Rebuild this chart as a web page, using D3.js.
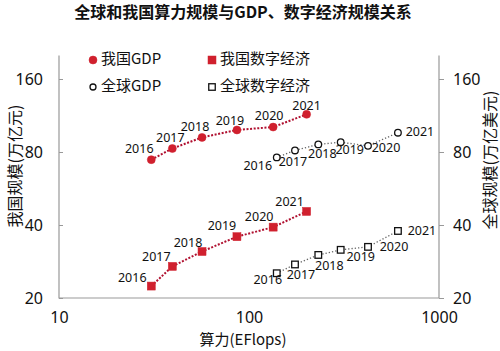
<!DOCTYPE html>
<html>
<head>
<meta charset="utf-8">
<script src="https://cdn.jsdelivr.net/npm/d3@7"></script>
<style>
  html, body { margin: 0; padding: 0; background: #fff; }
  svg { display: block; font-family: 'Noto Sans CJK SC', 'Noto Sans', sans-serif; }
</style>
</head>
<body>
<div id="svg-container"></div>
<script>
const years = ['2016', '2017', '2018', '2019', '2020', '2021']

// 算力 (EFlops)
const chinaCompute = [30.6, 39.5, 56.6, 86.4, 134, 201]
const globalCompute = [140, 174.6, 231.6, 303.8, 423, 608]

// 我国 (万亿元)
const chinaGdp = [74.4, 82.7, 91.9, 98.6, 101.4, 114.4]
const chinaDigital = [22.4, 27.0, 31.1, 35.8, 39.2, 45.5]

// 全球 (万亿美元)
const globalGdp = [76.0, 81.2, 86.0, 87.8, 84.8, 96.1]
const globalDigital = [25.3, 27.5, 30.1, 31.6, 32.5, 37.8]

const xTicks = [10, 100, 1000]
const yTicks = [20, 40, 80, 160]

// year label offsets (dx, dy) relative to each marker
const labelOffsets = {
  chinaGdp: [[-12, -10], [-2, -10], [-7, -10], [-7, -8], [-4, -10], [0, -8]],
  chinaDigital: [[-19, -7], [-16, -9], [-14, -8], [-15, -10], [-14, -9], [-17, -9]],
  globalGdp: [[-19, 9], [-2, 12], [4, 10], [9, 8], [18, 3], [22, 0]],
  globalDigital: [[-9, 7], [6, 11], [11, 12], [20, 8], [26, 1], [24, 1]],
}

const width = 500
const height = 351
const red = '#d0202e'

const svg = d3
  .select('#svg-container')
  .append('svg')
  .attr('width', width)
  .attr('height', height)

const x = d3.scaleLog().domain([10, 1000]).range([59, 439])
const y = d3.scaleLog().domain([20, 200]).range([298, 55.5])

// title
svg
  .append('text')
  .attr('x', 243)
  .attr('y', 18)
  .attr('text-anchor', 'middle')
  .style('font-size', '16px')
  .style('font-weight', 'bold')
  .attr('fill', '#111')
  .text('全球和我国算力规模与GDP、数字经济规模关系')

// frame: left, bottom, right
const axisColor = '#999'
svg
  .append('path')
  .attr('d', `M${x(10)},${y(200)}V${y(20)}H${x(1000)}V${y(200)}`)
  .attr('fill', 'none')
  .attr('stroke', axisColor)
  .attr('stroke-width', 1.2)

// y axes
const leftAxis = svg
  .append('g')
  .attr('transform', `translate(${x(10)},0)`)
  .call(d3.axisRight(y).tickValues(yTicks).tickFormat(d3.format('d')).tickSize(4))
leftAxis.select('.domain').remove()
leftAxis.selectAll('.tick line').attr('stroke', axisColor)
leftAxis
  .selectAll('.tick text')
  .attr('x', -16)
  .attr('text-anchor', 'end')
  .attr('fill', '#111')
  .style('font-size', '16px')
  .style('font-family', "'Noto Sans', sans-serif")

const rightAxis = svg
  .append('g')
  .attr('transform', `translate(${x(1000)},0)`)
  .call(d3.axisRight(y).tickValues(yTicks).tickFormat(d3.format('d')).tickSize(5))
rightAxis.select('.domain').remove()
rightAxis.selectAll('.tick line').attr('stroke', axisColor)
rightAxis
  .selectAll('.tick text')
  .attr('x', 14)
  .attr('fill', '#111')
  .style('font-size', '16px')
  .style('font-family', "'Noto Sans', sans-serif")

// x axis labels
const bottomAxis = svg
  .append('g')
  .attr('transform', `translate(0,${y(20)})`)
  .call(d3.axisBottom(x).tickValues(xTicks).tickFormat(d3.format('d')).tickSize(0))
bottomAxis.select('.domain').remove()
bottomAxis
  .selectAll('.tick text')
  .attr('y', 14)
  .attr('fill', '#111')
  .style('font-size', '16px')
  .style('font-family', "'Noto Sans', sans-serif")

// axis titles
svg
  .append('text')
  .attr('x', 243)
  .attr('y', 345)
  .attr('text-anchor', 'middle')
  .style('font-size', '15px')
  .attr('fill', '#111')
  .text('算力(EFlops)')

svg
  .append('text')
  .attr('transform', 'translate(21,166) rotate(-90)')
  .attr('text-anchor', 'middle')
  .style('font-size', '16px')
  .attr('fill', '#111')
  .text('我国规模(万亿元)')

svg
  .append('text')
  .attr('transform', 'translate(496,160) rotate(-90)')
  .attr('text-anchor', 'middle')
  .style('font-size', '16px')
  .attr('fill', '#111')
  .text('全球规模(万亿美元)')

// series
const series = [
  { key: 'chinaGdp', xs: chinaCompute, ys: chinaGdp, shape: 'circle', filled: true },
  { key: 'chinaDigital', xs: chinaCompute, ys: chinaDigital, shape: 'square', filled: true },
  { key: 'globalGdp', xs: globalCompute, ys: globalGdp, shape: 'circle', filled: false },
  { key: 'globalDigital', xs: globalCompute, ys: globalDigital, shape: 'square', filled: false },
]

const line = d3
  .line()
  .x(d => x(d[0]))
  .y(d => y(d[1]))

series.forEach(s => {
  const pts = years.map((yr, i) => [s.xs[i], s.ys[i], yr, i])
  const g = svg.append('g').attr('class', s.key)

  g.append('path')
    .attr('d', line(pts))
    .attr('fill', 'none')
    .attr('stroke', s.filled ? '#b01030' : '#666')
    .attr('stroke-width', s.filled ? 2 : 1.3)
    .attr('stroke-dasharray', s.filled ? '2 1.6' : '1.3 2')

  if (s.shape === 'circle') {
    g.selectAll('circle')
      .data(pts)
      .join('circle')
      .attr('cx', d => x(d[0]))
      .attr('cy', d => y(d[1]))
      .attr('r', s.filled ? 4 : 3.3)
      .attr('fill', s.filled ? red : '#fff')
      .attr('stroke', s.filled ? red : '#111')
      .attr('stroke-width', s.filled ? 0.5 : 1.3)
  } else {
    const sz = s.filled ? 8 : 6.6
    g.selectAll('rect')
      .data(pts)
      .join('rect')
      .attr('x', d => x(d[0]) - sz / 2)
      .attr('y', d => y(d[1]) - sz / 2)
      .attr('width', sz)
      .attr('height', sz)
      .attr('fill', s.filled ? red : '#fff')
      .attr('stroke', s.filled ? red : '#111')
      .attr('stroke-width', s.filled ? 0.5 : 1.3)
  }

  g.selectAll('text')
    .data(pts)
    .join('text')
    .attr('x', d => x(d[0]) + labelOffsets[s.key][d[3]][0])
    .attr('y', d => y(d[1]) + labelOffsets[s.key][d[3]][1])
    .attr('text-anchor', 'middle')
    .attr('dominant-baseline', 'middle')
    .style('font-size', '12.5px')
    .style('font-family', "'Noto Sans', sans-serif")
    .attr('fill', '#111')
    .text(d => d[2])
})

// legend
const legendItems = [
  { label: '我国GDP', shape: 'circle', filled: true, lx: 93, ly: 60 },
  { label: '我国数字经济', shape: 'square', filled: true, lx: 212, ly: 60 },
  { label: '全球GDP', shape: 'circle', filled: false, lx: 93, ly: 87 },
  { label: '全球数字经济', shape: 'square', filled: false, lx: 212, ly: 87 },
]

const legend = svg.append('g').attr('class', 'legend')
legendItems.forEach(it => {
  if (it.shape === 'circle') {
    legend
      .append('circle')
      .attr('cx', it.lx)
      .attr('cy', it.ly)
      .attr('r', it.filled ? 4 : 3)
      .attr('fill', it.filled ? red : '#fff')
      .attr('stroke', it.filled ? red : '#111')
      .attr('stroke-width', it.filled ? 0.5 : 1.3)
  } else {
    const sz = it.filled ? 8 : 6.5
    legend
      .append('rect')
      .attr('x', it.lx - sz / 2)
      .attr('y', it.ly - sz / 2)
      .attr('width', sz)
      .attr('height', sz)
      .attr('fill', it.filled ? red : '#fff')
      .attr('stroke', it.filled ? red : '#111')
      .attr('stroke-width', it.filled ? 0.5 : 1.3)
  }
  legend
    .append('text')
    .attr('x', it.lx + 8)
    .attr('y', it.ly)
    .attr('dominant-baseline', 'middle')
    .style('font-size', '15px')
    .attr('fill', '#111')
    .text(it.label)
})
</script>
</body>
</html>
